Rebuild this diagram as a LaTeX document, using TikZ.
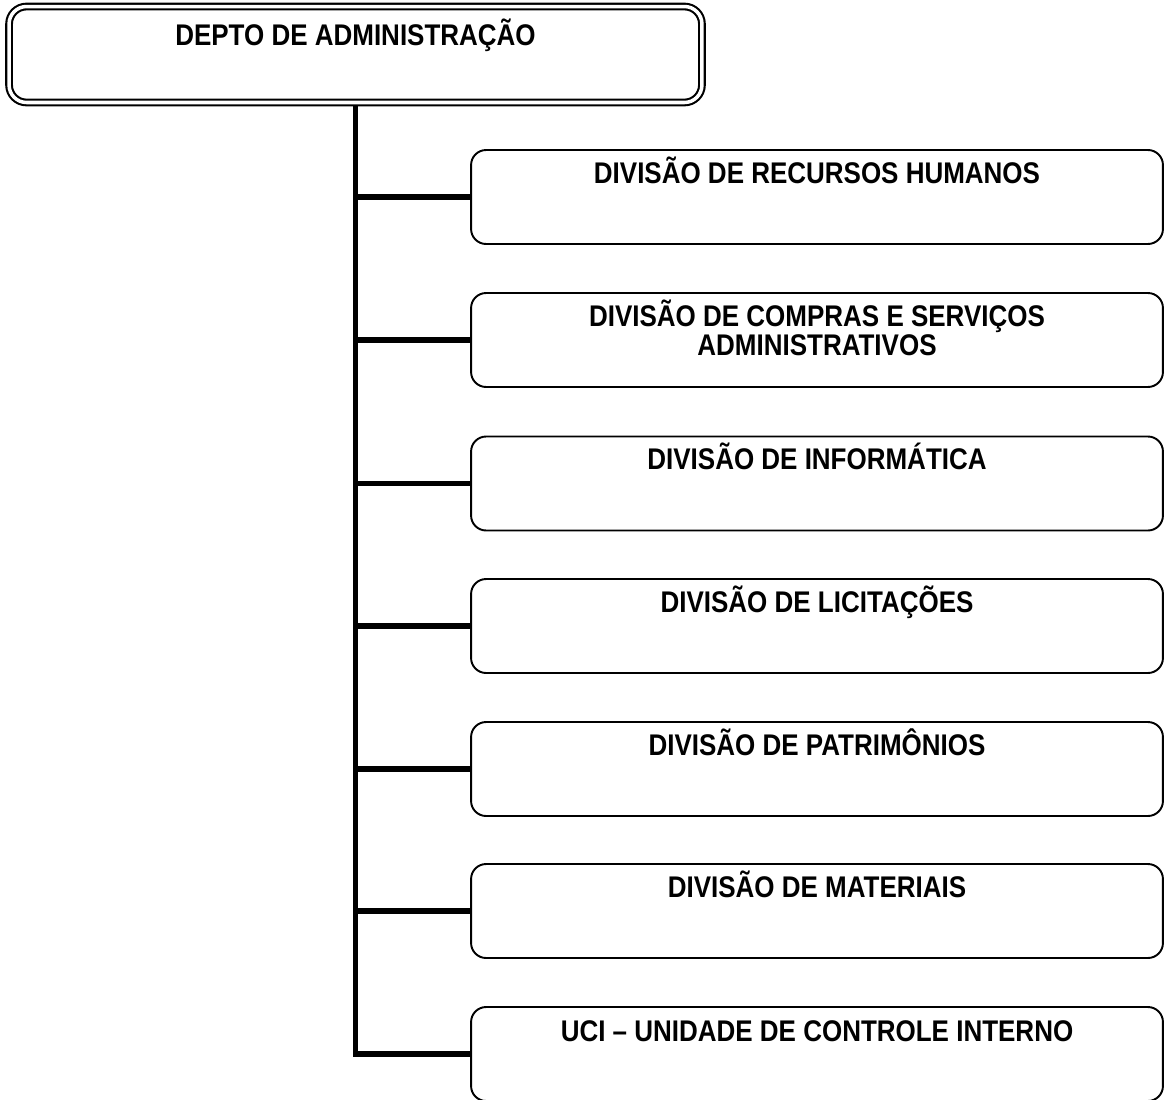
\documentclass[tikz,border=0pt]{standalone}
\usepackage{fontspec}
\setmainfont{Liberation Sans}[FakeStretch=0.87]
\usetikzlibrary{positioning}
\tikzset{
  depbox/.style={draw,line width=1.2pt,double,double distance=2pt,rounded corners=0.35cm,
    minimum width=13.86cm,minimum height=1.92cm,inner sep=0pt},
  divbox/.style={draw,line width=1.1pt,rounded corners=0.3cm,
    minimum width=13.84cm,minimum height=1.88cm,inner sep=0pt},
  rotulo/.style={anchor=base,align=center,inner sep=0pt,
    font=\fontsize{17}{16.2}\selectfont\bfseries},
  ramo/.style={line width=3.1pt}
}
\begin{document}
\begin{tikzpicture}[x=0.02cm,y=-0.02cm]
\useasboundingbox (0,0) rectangle (1165,1099);
% departamento
\node[depbox] (dep) at (355.5,54.5) {};
\node[rotulo] (dep-txt) at (355.5,45) {DEPTO DE ADMINISTRAÇÃO};
% divisoes (base = ultima linha do texto)
\foreach \nome/\topo/\linha/\texto in {rh/150/33/{DIVISÃO DE RECURSOS HUMANOS},
    compras/293/62/{DIVISÃO DE COMPRAS E SERVIÇOS\\ADMINISTRATIVOS},
    info/436.5/33/{DIVISÃO DE INFORMÁTICA},
    licit/579/33/{DIVISÃO DE LICITAÇÕES},
    patri/722/33/{DIVISÃO DE PATRIMÔNIOS},
    mat/864/33/{DIVISÃO DE MATERIAIS},
    uci/1007/34/{UCI – UNIDADE DE CONTROLE INTERNO}}{
  \node[divbox] (\nome) at (817,{\topo+47}) {};
  \node[rotulo] (\nome-txt) at (817,{\topo+\linha}) {\texto};
}
% ligacoes
\draw[ramo,shorten <=1.5pt] (dep.south) |- (uci.west);
\foreach \nome in {rh,compras,info,licit,patri,mat}\draw[ramo] (dep.south |- \nome.west) -- (\nome.west);
\end{tikzpicture}
\end{document}
